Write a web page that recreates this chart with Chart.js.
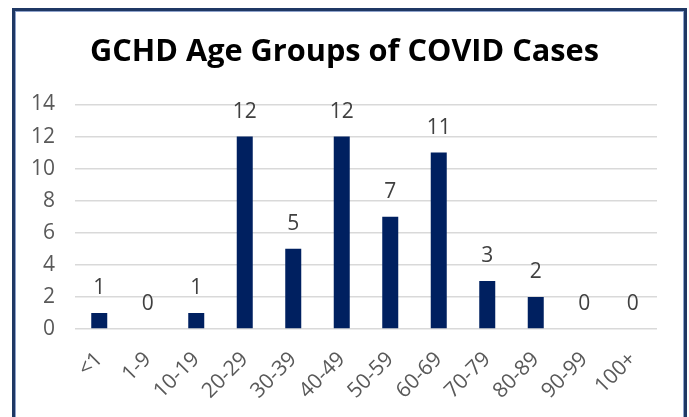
<!DOCTYPE html>
<html>
<head>
<meta charset="utf-8">
<script src="https://cdn.jsdelivr.net/npm/chart.js@4/dist/chart.umd.min.js"></script>
<style>
  html, body { margin: 0; padding: 0; background: #fff; overflow: hidden; }
  #wrap { position: relative; width: 689px; height: 417px; overflow: hidden; }
  #c { display: block; }
  #frame {
    position: absolute; left: 12px; top: 8px; width: 669px; height: 430px;
    border: 3px solid #1F3864; box-shadow: inset 1px 1px 0 #8FA3CC, inset -1px 0 0 #8FA3CC;
    pointer-events: none;
  }
</style>
</head>
<body>
<div id="wrap">
  <canvas id="c" width="689" height="417"></canvas>
  <div id="frame"></div>
</div>
<script>
const ageGroups = ['<1', '1-9', '10-19', '20-29', '30-39', '40-49', '50-59', '60-69', '70-79', '80-89', '90-99', '100+'];
const cases = [1, 0, 1, 12, 5, 12, 7, 11, 3, 2, 0, 0];
const yTicks = [0, 2, 4, 6, 8, 10, 12, 14];

// value labels above bars
const barLabels = {
  id: 'barLabels',
  afterDatasetsDraw(chart) {
    const ctx = chart.ctx;
    const meta = chart.getDatasetMeta(0);
    ctx.save();
    ctx.font = '21px "Open Sans", sans-serif';
    ctx.fillStyle = '#404040';
    ctx.textAlign = 'center';
    ctx.textBaseline = 'middle';
    meta.data.forEach((bar, i) => {
      ctx.fillText(String(cases[i]), bar.x, bar.y - 25);
    });
    ctx.restore();
  }
};

new Chart(document.getElementById('c'), {
  type: 'bar',
  data: {
    labels: ageGroups,
    datasets: [{
      data: cases,
      backgroundColor: '#002060',
      barPercentage: 0.66,
      categoryPercentage: 0.5
    }]
  },
  options: {
    responsive: false,
    animation: false,
    layout: { padding: 0 },
    plugins: {
      legend: { display: false },
      tooltip: { enabled: false },
      title: {
        display: true,
        text: 'GCHD Age Groups of COVID Cases',
        color: '#000',
        font: { family: '"Open Sans", sans-serif', size: 30.7, weight: 'bold', lineHeight: 1.2 },
        padding: { top: 34, bottom: 33.6 }
      }
    },
    scales: {
      x: {
        grid: { display: false },
        border: { display: false },
        ticks: {
          color: '#595959',
          font: { family: '"Open Sans", sans-serif', size: 21 },
          minRotation: 45, maxRotation: 45,
          padding: 10
        },
        afterFit(scale) { scale.height = 88; }
      },
      y: {
        min: 0, max: 14,
        afterBuildTicks(scale) { scale.ticks = yTicks.map(v => ({ value: v })); },
        grid: { color: '#D9D9D9', lineWidth: 1.5, drawTicks: false },
        border: { display: false },
        ticks: {
          color: '#595959',
          font: { family: '"Open Sans", sans-serif', size: 21 },
          padding: 20
        },
        afterFit(scale) { scale.width = 75; }
      },
      // empty right gutter so the title stays centred on the whole frame
      gutter: {
        type: 'linear',
        position: 'right',
        display: true,
        grid: { display: false },
        border: { display: false },
        ticks: { display: false },
        afterFit(scale) { scale.width = 32; }
      }
    }
  },
  plugins: [barLabels]
});
</script>
</body>
</html>
